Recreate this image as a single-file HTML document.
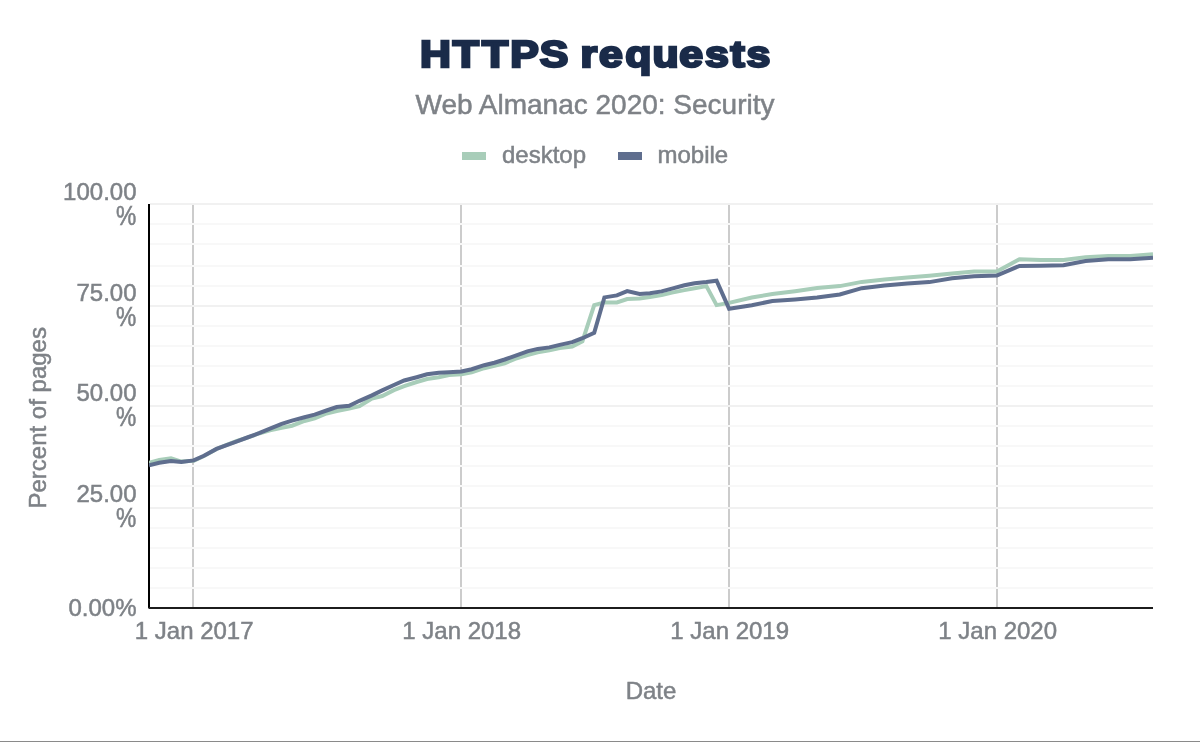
<!DOCTYPE html>
<html lang="en">
<head>
<meta charset="utf-8">
<title>HTTPS requests</title>
<style>
html,body{margin:0;padding:0;background:#fff;}
body{width:1200px;height:742px;overflow:hidden;position:relative;font-family:"Liberation Sans",sans-serif;}
svg{display:block;position:absolute;left:0;top:0;}
text{font-family:"Liberation Sans",sans-serif;}
.t{fill:#7e8287;font-size:24px;stroke:#7e8287;stroke-width:0.5px;}
</style>
</head>
<body>
<svg width="1200" height="742" viewBox="0 0 1200 742">
<rect x="0" y="0" width="1200" height="742" fill="#ffffff"/>
<rect x="0" y="741" width="1200" height="1" fill="#8a8a8a"/>
<rect x="192" y="204" width="2" height="404" fill="#cccccc"/>
<rect x="460" y="204" width="2" height="404" fill="#cccccc"/>
<rect x="728" y="204" width="2" height="404" fill="#cccccc"/>
<rect x="996" y="204" width="2" height="404" fill="#cccccc"/>
<rect x="150" y="203" width="1003" height="2" fill="#f1f1f1"/>
<rect x="150" y="223" width="1003" height="2" fill="#f8f8f8"/>
<rect x="150" y="243" width="1003" height="2" fill="#f8f8f8"/>
<rect x="150" y="265" width="1003" height="2" fill="#f8f8f8"/>
<rect x="150" y="285" width="1003" height="2" fill="#f8f8f8"/>
<rect x="150" y="305" width="1003" height="2" fill="#f1f1f1"/>
<rect x="150" y="325" width="1003" height="2" fill="#f8f8f8"/>
<rect x="150" y="345" width="1003" height="2" fill="#f8f8f8"/>
<rect x="150" y="365" width="1003" height="2" fill="#f8f8f8"/>
<rect x="150" y="385" width="1003" height="2" fill="#f8f8f8"/>
<rect x="150" y="405" width="1003" height="2" fill="#f1f1f1"/>
<rect x="150" y="425" width="1003" height="2" fill="#f8f8f8"/>
<rect x="150" y="445" width="1003" height="2" fill="#f8f8f8"/>
<rect x="150" y="465" width="1003" height="2" fill="#f8f8f8"/>
<rect x="150" y="485" width="1003" height="2" fill="#f8f8f8"/>
<rect x="150" y="507" width="1003" height="2" fill="#f1f1f1"/>
<rect x="150" y="527" width="1003" height="2" fill="#f8f8f8"/>
<rect x="150" y="547" width="1003" height="2" fill="#f8f8f8"/>
<rect x="150" y="567" width="1003" height="2" fill="#f8f8f8"/>
<rect x="150" y="587" width="1003" height="2" fill="#f8f8f8"/>
<rect x="148" y="204" width="2" height="404" fill="#000"/>
<rect x="148.5" y="607" width="1004.5" height="2" fill="#1c1c1c"/>
<clipPath id="c"><rect x="149" y="204" width="1004" height="404"/></clipPath>
<g clip-path="url(#c)" fill="none" stroke-width="4" stroke-linejoin="miter">
<polyline stroke="#a8cdb9" points="149.0,462.7 159.3,459.9 171.0,458.4 181.3,461.6 193.7,460.8 204.0,456.0 216.5,449.0 226.7,444.8 237.0,441.0 247.3,437.6 259.7,433.2 270.0,430.3 281.7,427.8 292.0,425.7 304.5,421.0 314.7,418.3 326.5,413.5 336.7,411.0 349.2,408.5 359.5,406.1 371.9,398.5 382.2,396.0 393.9,390.1 404.2,386.1 416.7,382.0 427.0,379.0 438.7,377.2 449.0,375.0 461.4,374.2 471.7,372.4 484.2,368.2 494.4,365.8 504.7,363.3 515.0,358.9 527.4,355.1 537.7,352.3 549.4,350.4 559.7,348.0 572.2,346.6 582.4,341.4 594.2,305.1 604.4,302.6 616.9,302.4 627.2,299.1 639.6,298.6 649.9,297.0 661.6,295.1 671.9,292.6 684.4,290.1 694.6,288.2 706.4,286.1 716.6,305.1 729.1,302.9 751.8,297.5 772.4,294.1 795.1,291.3 817.1,288.1 839.8,286.1 861.8,281.9 884.6,279.5 907.3,277.6 929.3,275.8 952.1,273.6 974.1,271.6 996.8,271.5 1019.5,259.2 1040.8,260.0 1063.5,260.0 1085.5,257.3 1108.3,256.1 1130.3,255.9 1153.0,254.3"/>
<polyline stroke="#5f6e8e" points="149.0,465.2 159.3,462.7 171.0,461.0 181.3,461.9 193.7,460.4 204.0,455.8 216.5,448.9 226.7,445.1 237.0,441.3 247.3,437.5 259.7,432.9 270.0,428.6 281.7,423.9 292.0,420.6 304.5,417.3 314.7,414.6 326.5,410.5 336.7,407.0 349.2,405.8 359.5,400.8 371.9,395.4 382.2,390.4 393.9,385.0 404.2,380.5 416.7,377.2 427.0,374.3 438.7,372.8 449.0,372.2 461.4,371.4 471.7,369.2 484.2,365.2 494.4,362.7 504.7,359.5 515.0,355.8 527.4,351.4 537.7,348.9 549.4,347.4 559.7,344.9 572.2,342.2 582.4,338.2 594.2,332.7 604.4,297.4 616.9,295.4 627.2,291.1 639.6,293.9 649.9,293.2 661.6,291.4 671.9,288.6 684.4,285.3 694.6,283.2 706.4,282.0 716.6,280.7 729.1,308.7 751.8,305.2 772.4,301.0 795.1,299.5 817.1,297.6 839.8,294.5 861.8,288.2 884.6,285.6 907.3,283.6 929.3,282.1 952.1,278.3 974.1,276.2 996.8,275.6 1019.5,265.9 1040.8,265.8 1063.5,265.2 1085.5,261.0 1108.3,259.2 1130.3,259.2 1153.0,257.8"/>
</g>
<text transform="translate(420.0,67.0) scale(1.15,1)" x="0" y="0" dx="0.0 0.35 1.39 0.52 -0.43 0.0 -2.26 0.26 0.7 -0.17 -0.87 0.35 0.35 0.17" font-size="37.2" font-weight="bold" letter-spacing="1.3" fill="#1a2b49" stroke="#1a2b49" stroke-width="2.5" stroke-linejoin="miter" stroke-miterlimit="1.6">HTTPS requests</text>
<text x="595" y="113.8" text-anchor="middle" font-size="28" fill="#7e8287" stroke="#7e8287" stroke-width="0.5">Web Almanac 2020: Security</text>
<rect x="462" y="152" width="24" height="8" fill="#a8cdb9"/>
<text class="t" x="502" y="162.8">desktop</text>
<rect x="618" y="152" width="24" height="8" fill="#5f6e8e"/>
<text class="t" x="657.5" y="162.8">mobile</text>
<text class="t" x="136.5" y="199.8" text-anchor="end">100.00</text>
<text class="t" transform="translate(136.3,224.7) scale(0.95,1.12)" text-anchor="end">%</text>
<text class="t" x="136.5" y="300.8" text-anchor="end">75.00</text>
<text class="t" transform="translate(136.3,325.7) scale(0.95,1.12)" text-anchor="end">%</text>
<text class="t" x="136.5" y="400.8" text-anchor="end">50.00</text>
<text class="t" transform="translate(136.3,425.7) scale(0.95,1.12)" text-anchor="end">%</text>
<text class="t" x="136.5" y="501.8" text-anchor="end">25.00</text>
<text class="t" transform="translate(136.3,526.7) scale(0.95,1.12)" text-anchor="end">%</text>
<text class="t" x="136.5" y="615.6" text-anchor="end">0.00%</text>
<text class="t" x="194.2" y="639" text-anchor="middle">1 Jan 2017</text>
<text class="t" x="461.7" y="639" text-anchor="middle">1 Jan 2018</text>
<text class="t" x="729.7" y="639" text-anchor="middle">1 Jan 2019</text>
<text class="t" x="997.7" y="639" text-anchor="middle">1 Jan 2020</text>
<text class="t" x="651" y="698.8" text-anchor="middle">Date</text>
<text class="t" transform="translate(45.5,417.8) rotate(-90)" text-anchor="middle">Percent of pages</text>
</svg>
</body>
</html>
